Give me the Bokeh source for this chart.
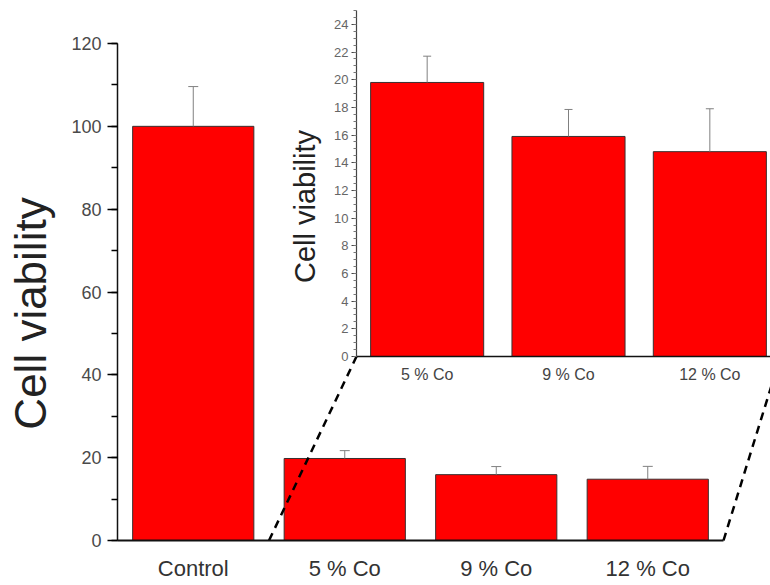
import math
from bokeh.plotting import figure
from bokeh.models import Range1d, LinearAxis, FixedTicker, SingleIntervalTicker
from bokeh.core.properties import value
from bokeh.embed import file_html
from bokeh.resources import INLINE

# ---------------- data ----------------
categories = ["Control", "5 % Co", "9 % Co", "12 % Co"]
viability = [100.0, 19.8, 15.9, 14.8]
error_up = [9.6, 1.9, 1.95, 3.1]
y_label = "Cell viability"
main_y_max = 120
main_y_step = 20
inset_categories = categories[1:]
inset_viability = viability[1:]
inset_error_up = error_up[1:]
inset_y_max = 25
inset_y_step = 2

# ---------------- layout (canvas pixel anchors) ----------------
W, H = 770, 585
MAIN_X0_PX, MAIN_XN_PX = 117, 723        # main x: 0 .. n categories
MAIN_Y0_PX, MAIN_YT_PX = 540, 43         # main y: 0 .. main_y_max
INSET_X0_PX, INSET_XN_PX = 356, 780      # inset x: 0 .. n inset categories
INSET_Y0_PX, INSET_YT_PX = 356, 10       # inset y: 0 .. inset_y_max
MAIN_LABEL_PX = (30, 313)
INSET_LABEL_PX = (304, 206)


def lin(p0, v0, p1, v1):
    k = (v1 - v0) / (p1 - p0)
    return lambda px: v0 + (px - p0) * k


mx = lin(MAIN_X0_PX, 0, MAIN_XN_PX, len(categories))
my = lin(MAIN_Y0_PX, 0, MAIN_YT_PX, main_y_max)
ix = lin(INSET_X0_PX, 0, INSET_XN_PX, len(inset_categories))
iy = lin(INSET_Y0_PX, 0, INSET_YT_PX, inset_y_max)

p = figure(width=W, height=H,
           x_range=Range1d(mx(0), mx(W)),
           y_range=Range1d(my(H), my(0)),
           x_axis_location=None, y_axis_location=None,
           toolbar_location=None, output_backend="svg",
           min_border_left=0, min_border_right=0,
           min_border_top=0, min_border_bottom=0,
           outline_line_color=None, background_fill_color="white",
           border_fill_color="white")
p.extra_x_ranges = {"ix": Range1d(ix(0), ix(W))}
p.extra_y_ranges = {"iy": Range1d(iy(H), iy(0))}
p.grid.visible = False

RED = "#ff0000"
EDGE = "#3a3030"
ERR = "#808080"
FONT = "Liberation Sans"

# ---------------- main bars ----------------
xs = [i + 0.5 for i in range(len(categories))]
p.vbar(x=xs, top=viability, bottom=0, width=0.8, fill_color=RED,
       line_color=EDGE, line_width=1)
tops = [v + e for v, e in zip(viability, error_up)]
p.segment(x0=xs, y0=viability, x1=xs, y1=tops, line_color=ERR, line_width=1)
cap = mx(MAIN_X0_PX + 5) - mx(MAIN_X0_PX)
p.segment(x0=[x - cap for x in xs], y0=tops, x1=[x + cap for x in xs], y1=tops,
          line_color=ERR, line_width=1)

# ---------------- inset bars ----------------
ixs = [i + 0.5 for i in range(len(inset_categories))]
p.vbar(x=ixs, top=inset_viability, bottom=0, width=0.8, fill_color=RED,
       line_color=EDGE, line_width=1, x_range_name="ix", y_range_name="iy")
itops = [v + e for v, e in zip(inset_viability, inset_error_up)]
p.segment(x0=ixs, y0=inset_viability, x1=ixs, y1=itops, line_color=ERR,
          line_width=1, x_range_name="ix", y_range_name="iy")
icap = ix(INSET_X0_PX + 4) - ix(INSET_X0_PX)
p.segment(x0=[x - icap for x in ixs], y0=itops, x1=[x + icap for x in ixs], y1=itops,
          line_color=ERR, line_width=1, x_range_name="ix", y_range_name="iy")

# ---------------- dashed connectors (main coords) ----------------
n_skip = len(categories) - len(inset_categories)
p.segment(x0=[n_skip, len(categories)], y0=[0, 0],
          x1=[mx(INSET_X0_PX), mx(INSET_XN_PX)], y1=[my(INSET_Y0_PX), my(INSET_Y0_PX)],
          line_color="black", line_width=2.5, line_dash="8 6")

# ---------------- main axes ----------------
yax = LinearAxis(fixed_location=0, bounds=(0, main_y_max),
                 ticker=SingleIntervalTicker(interval=main_y_step, num_minor_ticks=2))
yax.axis_line_width = 1.5
yax.axis_line_color = "#111111"
yax.major_tick_out = 10
yax.major_tick_in = 0
yax.major_tick_line_width = 1.5
yax.minor_tick_out = 6
yax.minor_tick_in = 0
yax.minor_tick_line_width = 1.5
yax.major_label_standoff = 6
yax.major_label_text_font = FONT
yax.major_label_text_font_size = "18px"
yax.major_label_text_color = "#4a4a4a"
p.add_layout(yax, "left")

xax = LinearAxis(fixed_location=0, bounds=(0, len(categories)), ticker=FixedTicker(ticks=xs),
                 major_label_overrides={x: c for x, c in zip(xs, categories)})
xax.axis_line_width = 2
xax.axis_line_color = "#111111"
xax.major_tick_line_color = None
xax.major_tick_out = 0
xax.major_tick_in = 0
xax.minor_tick_line_color = None
xax.major_label_standoff = 15
xax.major_label_text_font = FONT
xax.major_label_text_font_size = "22px"
xax.major_label_text_color = "#333333"
p.add_layout(xax, "below")

# ---------------- inset axes ----------------
iyax = LinearAxis(x_range_name="ix", y_range_name="iy", fixed_location=0,
                  bounds=(0, inset_y_max),
                  ticker=SingleIntervalTicker(interval=inset_y_step, num_minor_ticks=4))
iyax.axis_line_width = 1.2
iyax.axis_line_color = "#444444"
iyax.major_tick_out = 5
iyax.major_tick_in = 0
iyax.major_tick_line_color = "#444444"
iyax.minor_tick_out = 3
iyax.minor_tick_in = 0
iyax.minor_tick_line_color = "#777777"
iyax.major_label_standoff = 3
iyax.major_label_text_font = FONT
iyax.major_label_text_font_size = "13px"
iyax.major_label_text_color = "#666666"
p.add_layout(iyax, "left")

ixax = LinearAxis(x_range_name="ix", y_range_name="iy", fixed_location=0,
                  bounds=(0, len(inset_categories)), ticker=FixedTicker(ticks=ixs),
                  major_label_overrides={x: c for x, c in zip(ixs, inset_categories)})
ixax.axis_line_width = 1.5
ixax.axis_line_color = "#111111"
ixax.major_tick_line_color = None
ixax.major_tick_out = 0
ixax.major_tick_in = 0
ixax.minor_tick_line_color = None
ixax.major_label_standoff = 9
ixax.major_label_text_font = FONT
ixax.major_label_text_font_size = "16px"
ixax.major_label_text_color = "#444444"
p.add_layout(ixax, "below")

# ---------------- axis titles ----------------
p.text(x=[mx(MAIN_LABEL_PX[0])], y=[my(MAIN_LABEL_PX[1])], text=[y_label],
       angle=math.pi / 2, text_align="center", text_baseline="middle",
       text_font=value(FONT), text_font_size="44px", text_color="#222222")
p.text(x=[ix(INSET_LABEL_PX[0])], y=[iy(INSET_LABEL_PX[1])], text=[y_label],
       angle=math.pi / 2, text_align="center", text_baseline="middle",
       text_font=value(FONT), text_font_size="29px", text_color="#222222",
       x_range_name="ix", y_range_name="iy")

open("out.html", "w").write(file_html(p, INLINE))
